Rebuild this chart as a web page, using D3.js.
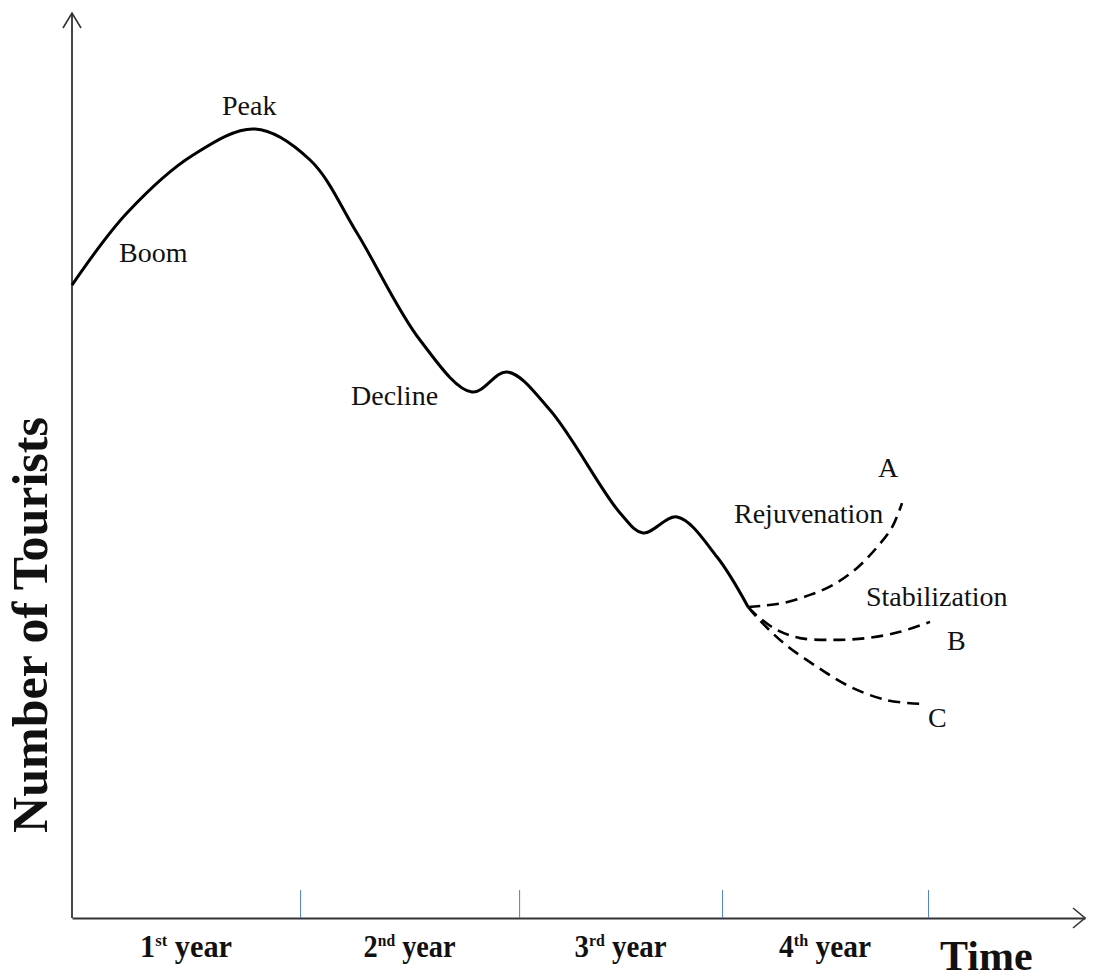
<!DOCTYPE html>
<html>
<head>
<meta charset="utf-8">
<script src="https://cdn.jsdelivr.net/npm/d3@7"></script>
<style>
  body { margin: 0; background: #fff; }
  text { font-family: "Liberation Serif", "Times New Roman", serif; fill: #111; }
</style>
</head>
<body>
<div id="chart"></div>
<script>
// time in months, tourists as an index (0-100)
const mainMonths = [0, 3.08, 6.79, 10.26, 13.35, 15.98, 19.51, 22.43, 24.39, 26.8, 30.73, 32.02, 33.93, 36.17, 37.91];
const mainValues = [70.33, 78.33, 84.78, 87.67, 84.22, 76.11, 64.22, 58.44, 60.67, 56.44, 45.0, 42.78, 44.56, 40.11, 34.56];

const rejMonths = [37.91, 38.75, 39.87, 41.38, 42.67, 44.02, 45.14, 45.98, 46.54];
const rejValues = [34.56, 34.7, 35.0, 35.9, 37.0, 38.9, 41.2, 43.4, 46.1];

const stabMonths = [37.91, 38.4, 39.53, 40.82, 42.67, 44.58, 46.43, 48.11];
const stabValues = [34.56, 33.6, 32.0, 31.1, 30.9, 31.1, 31.8, 32.9];

const declMonths = [37.91, 38.41, 39.87, 41.78, 43.63, 45.7, 47.55];
const declValues = [34.56, 33.4, 30.6, 27.9, 25.7, 24.2, 23.8];

const yearEnds = [12.79, 25.07, 36.45, 48];
const yearLabels = [["1", "st"], ["2", "nd"], ["3", "rd"], ["4", "th"]];

const width = 1093, height = 978;

const svg = d3.select("#chart")
  .append("svg")
    .attr("width", width)
    .attr("height", height);

svg.append("rect").attr("width", width).attr("height", height).attr("fill", "#fff");

const x = d3.scaleLinear()
  .domain([0, 56.8])
  .range([72, 1085]);

const y = d3.scaleLinear()
  .domain([0, 100])
  .range([918, 18]);

const zip = (ms, vs) => ms.map((m, i) => ({ m: m, v: vs[i] }));

const line = d3.line()
  .x(d => x(d.m))
  .y(d => y(d.v))
  .curve(d3.curveCatmullRom.alpha(0.5));

// axes
const x0 = x.range()[0], x1 = x.range()[1], yb = y.range()[0];
svg.append("line")
  .attr("x1", x0).attr("y1", yb).attr("x2", x0).attr("y2", 13)
  .attr("stroke", "#333").attr("stroke-width", 1.8);
svg.append("path")
  .attr("d", `M${x0 - 9},${28} L${x0},${13} L${x0 + 9},${28}`)
  .attr("fill", "none").attr("stroke", "#333").attr("stroke-width", 1.6);

svg.append("g")
  .attr("transform", `translate(0,${yb})`)
  .call(d3.axisBottom(x).tickValues(yearEnds).tickSize(-28).tickSizeOuter(0).tickFormat(""))
  .call(g => g.select(".domain").attr("stroke", "#333").attr("stroke-width", 2.2))
  .call(g => g.selectAll(".tick line").attr("stroke", "#4f7fbf").attr("stroke-width", 1));
svg.append("path")
  .attr("d", `M${x1 - 12},${yb - 10} L${x1},${yb} L${x1 - 12},${yb + 10}`)
  .attr("fill", "none").attr("stroke", "#333").attr("stroke-width", 1.6);

// main curve
svg.append("path")
  .datum(zip(mainMonths, mainValues))
  .attr("d", line)
  .attr("fill", "none")
  .attr("stroke", "#000")
  .attr("stroke-width", 3);

// future scenarios
[zip(rejMonths, rejValues), zip(stabMonths, stabValues), zip(declMonths, declValues)].forEach(s => {
  svg.append("path")
    .datum(s)
    .attr("d", line)
    .attr("fill", "none")
    .attr("stroke", "#000")
    .attr("stroke-width", 2.6)
    .attr("stroke-dasharray", "12,7");
});

// stage labels
const labels = [
  { t: "Peak", x: 222, y: 115 },
  { t: "Boom", x: 119, y: 262 },
  { t: "Decline", x: 351, y: 405 },
  { t: "A", x: 878, y: 477 },
  { t: "Rejuvenation", x: 734, y: 523 },
  { t: "Stabilization", x: 866, y: 606 },
  { t: "B", x: 947, y: 650 },
  { t: "C", x: 928, y: 727 }
];
svg.selectAll(".lbl")
  .data(labels)
  .join("text")
    .attr("class", "lbl")
    .attr("x", d => d.x)
    .attr("y", d => d.y)
    .attr("font-size", 28)
    .text(d => d.t);

// year labels, centered between ticks
const bounds = [0].concat(yearEnds);
yearLabels.forEach((l, i) => {
  const cx = (x(bounds[i]) + x(bounds[i + 1])) / 2;
  const t = svg.append("text")
    .attr("x", cx)
    .attr("y", 957)
    .attr("text-anchor", "middle")
    .attr("font-size", 31)
    .attr("font-weight", "bold")
    .attr("textLength", 92)
    .attr("lengthAdjust", "spacingAndGlyphs");
  t.append("tspan").text(l[0]);
  t.append("tspan").attr("font-size", 17).attr("dy", -11).text(l[1]);
  t.append("tspan").attr("dy", 11).text(" year");
});

svg.append("text")
  .attr("x", 940)
  .attr("y", 970)
  .attr("font-size", 42)
  .attr("font-weight", "bold")
  .text("Time");

svg.append("text")
  .attr("transform", "translate(47,625) rotate(-90)")
  .attr("text-anchor", "middle")
  .attr("font-size", 50)
  .attr("font-weight", "bold")
  .text("Number of Tourists");
</script>
</body>
</html>
